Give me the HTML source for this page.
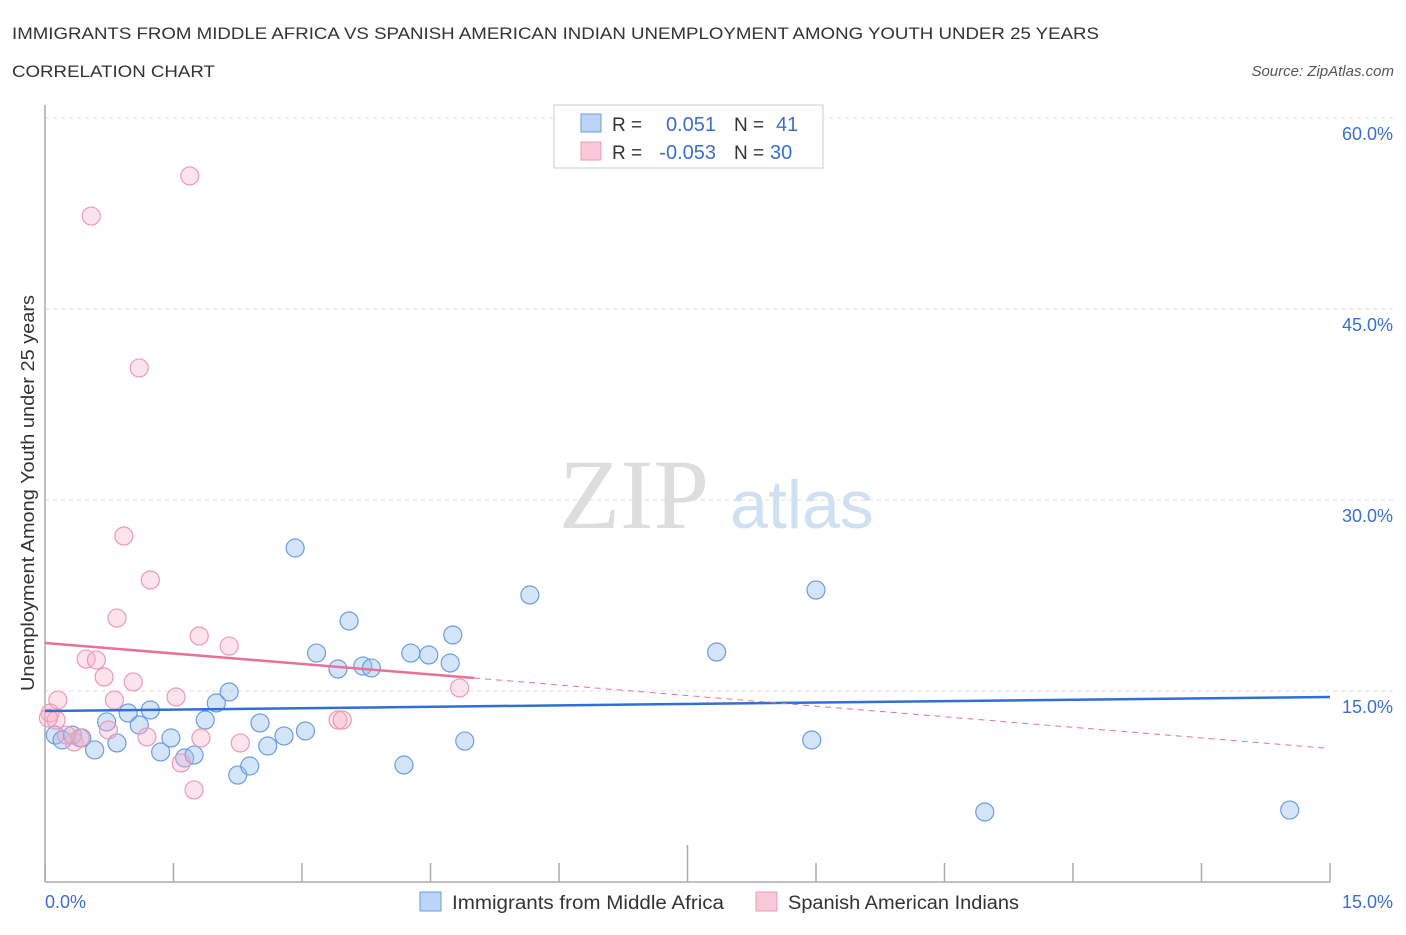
<!DOCTYPE html>
<html><head><meta charset="utf-8"><style>
body{margin:0;background:#fff;width:1406px;height:930px;overflow:hidden;font-family:"Liberation Sans",sans-serif}
svg text{font-family:"Liberation Sans",sans-serif}
</style></head><body>
<svg id="chart" width="1406" height="930">
<text x="12" y="39" font-size="17" fill="#333" textLength="1087" lengthAdjust="spacingAndGlyphs">IMMIGRANTS FROM MIDDLE AFRICA VS SPANISH AMERICAN INDIAN UNEMPLOYMENT AMONG YOUTH UNDER 25 YEARS</text>
<text x="12" y="77" font-size="17" fill="#333" textLength="203" lengthAdjust="spacingAndGlyphs">CORRELATION CHART</text>
<text x="1394" y="76" font-size="15" fill="#555" font-style="italic" text-anchor="end">Source: ZipAtlas.com</text>
<text x="634" y="528" font-size="100" fill="#ddd" font-family="Liberation Serif" text-anchor="middle" style="font-family:'Liberation Serif',serif">ZIP</text>
<text x="802" y="528" font-size="68" fill="#cfe0f3" text-anchor="middle">atlas</text>
<text transform="translate(34,493) rotate(-90)" font-size="18" fill="#333" text-anchor="middle" textLength="396" lengthAdjust="spacingAndGlyphs">Unemployment Among Youth under 25 years</text>
<g id="grid"></g><g id="marks"></g>
<text x="45" y="908" font-size="18" fill="#3a6fd0">0.0%</text>
<text x="1393" y="908" font-size="18" fill="#3a6fd0" text-anchor="end">15.0%</text>
<g>
<rect x="554" y="105" width="269" height="63" fill="#fff" stroke="#ccc"/>
<rect x="581" y="114" width="20" height="18" fill="#bcd4f5" stroke="#6a9de0"/>
<rect x="581" y="142" width="20" height="18" fill="#f9c9d7" stroke="#ec9ab3"/>
<text x="612" y="131" font-size="19" fill="#333">R =</text><text x="716" y="131" font-size="20" fill="#3a6fd0" text-anchor="end">0.051</text>
<text x="734" y="131" font-size="19" fill="#333">N =</text><text x="776" y="131" font-size="20" fill="#3a6fd0">41</text>
<text x="612" y="159" font-size="19" fill="#333">R =</text><text x="716" y="159" font-size="20" fill="#3a6fd0" text-anchor="end">-0.053</text>
<text x="734" y="159" font-size="19" fill="#333">N =</text><text x="770" y="159" font-size="20" fill="#3a6fd0">30</text>
</g>
<g>
<rect x="420" y="892" width="21" height="19" fill="#bcd4f5" stroke="#6a9de0"/>
<text x="452" y="909" font-size="19" fill="#333" textLength="272" lengthAdjust="spacingAndGlyphs">Immigrants from Middle Africa</text>
<rect x="756" y="892" width="21" height="19" fill="#f9c9d7" stroke="#ec9ab3"/>
<text x="788" y="909" font-size="19" fill="#333" textLength="231" lengthAdjust="spacingAndGlyphs">Spanish American Indians</text>
</g>
</svg>
<script>
const yTicks=[15,30,45,60];
const yTickLabels=["15.0%","30.0%","45.0%","60.0%"];
const xTicks=[0,1.5,3,4.5,6,7.5,9,10.5,12,13.5,15];
const blueX=[0.12,0.20,0.32,0.43,0.58,0.72,0.84,0.97,1.10,1.23,1.35,1.47,1.63,1.74,1.87,2.00,2.15,2.25,2.39,2.51,2.60,2.79,2.92,3.04,3.17,3.42,3.55,3.71,3.81,4.19,4.27,4.48,4.73,4.76,4.90,5.66,7.84,8.95,9.00,10.97,14.53];
const blueY=[11.54,11.15,11.54,11.31,10.37,12.57,10.92,13.27,12.33,13.51,10.21,11.31,9.74,9.97,12.72,14.06,14.92,8.40,9.11,12.49,10.68,11.47,26.23,11.86,17.98,16.73,20.50,16.96,16.81,9.19,17.98,17.83,17.20,19.40,11.07,22.54,18.06,11.15,22.93,5.50,5.65];
const pinkX=[0.06,0.13,0.15,0.34,0.41,0.54,0.48,0.60,0.69,0.74,0.81,0.84,0.92,1.03,1.10,1.19,1.23,1.53,1.59,1.69,1.74,1.80,1.82,2.15,2.28,3.42,3.47,4.84,0.25,0.04];
const pinkY=[13.27,12.72,14.29,11.00,11.31,52.30,17.51,17.43,16.10,11.94,14.29,20.73,27.17,15.71,40.37,11.39,23.72,14.53,9.35,55.45,7.23,19.32,11.31,18.53,10.92,12.72,12.72,15.24,11.54,12.88];
const blueTrend=[[0,13.43],[15,14.53]];
const pinkTrendSolid=[[0,18.77],[5.01,16.02]];
const pinkTrendDash=[[5.01,16.02],[14.94,10.52]];
const X=v=>45+v*(1285/15), Y=v=>882-v*(764/60);
const NS="http://www.w3.org/2000/svg";
function mk(t,a,p){const e=document.createElementNS(NS,t);for(const k in a)e.setAttribute(k,a[k]);p.appendChild(e);return e;}
const grid=document.getElementById('grid'), marks=document.getElementById('marks');
yTicks.forEach((t,i)=>{
 const l=mk('line',{x1:45,x2:1395,y1:Y(t),y2:Y(t),stroke:'#ddd','stroke-dasharray':'4,4'},grid);
 
 
 const tx=mk('text',{x:1393,y:Y(t)+22,'font-size':18,fill:'#3a6fd0','text-anchor':'end'},grid);
 tx.textContent=yTickLabels[i];
 
 
});
const ya=mk('line',{x1:45,x2:45,y1:105,y2:882,stroke:'#aaa','stroke-width':1.5},grid);


const xa=mk('line',{x1:45,x2:1330,y1:882,y2:882,stroke:'#aaa','stroke-width':1.5},grid);


xTicks.forEach((t,i)=>{
 const l=mk('line',{x1:X(t),x2:X(t),y1:(i==5?845:863),y2:882,stroke:'#aaa','stroke-width':1.5},grid);
 
 
});
function dots(xs,ys,fill,stroke,name){xs.forEach((x,i)=>{
 const c=mk('circle',{cx:X(x),cy:Y(ys[i]),r:9,fill:fill,stroke:stroke,'stroke-width':1.2},marks);
 
 
});}
dots(blueX,blueY,'rgba(150,190,240,0.4)','#6a9de0','point-middle-africa');
dots(pinkX,pinkY,'rgba(248,175,198,0.35)','#ec9ab3','point-spanish-american-indian');
function line(p,st,w,dash,name){const l=mk('line',{x1:X(p[0][0]),y1:Y(p[0][1]),x2:X(p[1][0]),y2:Y(p[1][1]),stroke:st,'stroke-width':w},marks);if(dash)l.setAttribute('stroke-dasharray',dash);
 
 }
line(blueTrend,'#2f6fd6',2.5,null,'trend-middle-africa');
line(pinkTrendSolid,'#e8709a',2.5,null,'trend-spanish-american-indian');
line(pinkTrendDash,'#e8709a',1,'6,5','trend-spanish-american-indian-extension');
</script>
</body></html>
